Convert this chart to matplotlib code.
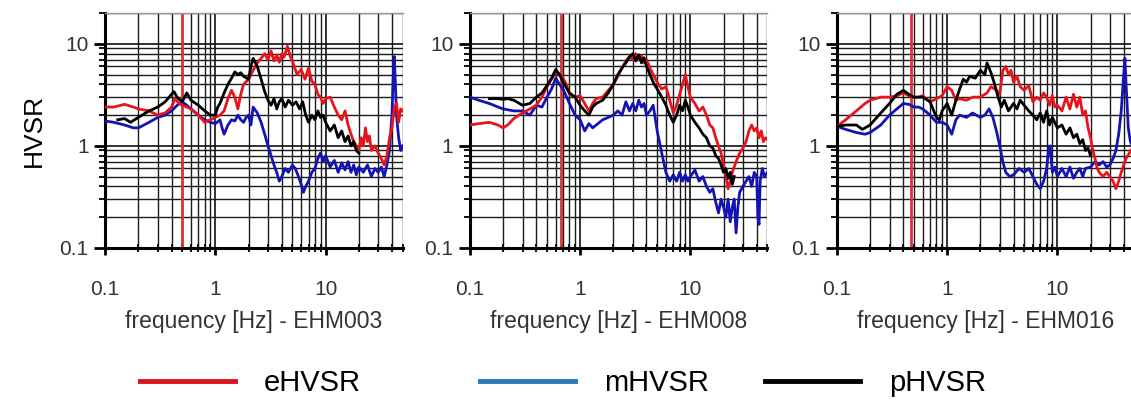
import matplotlib
matplotlib.use('Agg')
import matplotlib.pyplot as plt
from matplotlib.lines import Line2D
from matplotlib.ticker import FixedLocator, FixedFormatter, LogLocator, NullFormatter

plt.rcParams['font.family'] = ['Liberation Sans', 'DejaVu Sans']

stations = ['EHM003', 'EHM008', 'EHM016']
peak_freq = [0.5, 0.67, 0.47]
series_names = ['eHVSR', 'mHVSR', 'pHVSR']

# (frequency Hz, HVSR)
e1 = [(0.1, 2.4), (0.12, 2.4), (0.15, 2.55), (0.18, 2.4), (0.2, 2.3), (0.25, 2.2), (0.3, 2.0), (0.35, 2.1),
      (0.4, 2.4), (0.43, 2.9), (0.47, 2.6), (0.5, 2.5), (0.55, 2.4), (0.6, 2.3), (0.7, 2.0), (0.8, 1.7),
      (0.9, 1.8), (1.0, 1.9), (1.1, 2.0), (1.2, 2.2), (1.3, 2.9), (1.4, 3.5), (1.5, 3.0), (1.6, 2.3),
      (1.7, 3.2), (1.8, 4.0), (2.0, 4.5), (2.2, 5.5), (2.4, 6.5), (2.6, 7.2), (2.8, 8.0), (3.0, 7.0),
      (3.2, 8.5), (3.4, 6.8), (3.6, 7.8), (3.8, 6.6), (4.0, 8.0), (4.2, 7.4), (4.5, 9.5), (4.8, 7.4),
      (5.0, 6.8), (5.5, 5.0), (6.0, 5.6), (6.5, 4.5), (7.0, 5.8), (7.5, 4.3), (8.0, 4.0), (8.5, 3.2),
      (9.0, 3.0), (9.5, 2.6), (10, 2.9), (11, 3.0), (12, 2.4), (13, 2.0), (14, 1.8), (15, 2.2), (16, 1.6),
      (17, 1.3), (18, 1.1), (19, 1.0), (20, 0.9), (21, 1.2), (22, 1.0), (23, 1.5), (24, 1.1), (25, 1.25),
      (26, 0.9), (28, 1.0), (30, 0.85), (32, 0.75), (34, 0.65), (36, 0.8), (38, 1.2), (40, 1.5), (42, 2.4),
      (44, 2.6), (46, 1.7), (48, 2.3), (50, 2.2)]
m1 = [(0.1, 1.75), (0.12, 1.7), (0.15, 1.6), (0.18, 1.5), (0.2, 1.5), (0.25, 1.7), (0.3, 1.9), (0.35, 2.0),
      (0.4, 2.2), (0.45, 2.5), (0.5, 2.7), (0.55, 2.5), (0.6, 2.3), (0.7, 2.0), (0.8, 1.8), (0.9, 1.7),
      (1.0, 1.65), (1.1, 1.8), (1.15, 1.5), (1.2, 1.3), (1.3, 1.6), (1.4, 1.8), (1.5, 1.75), (1.6, 2.0),
      (1.7, 1.8), (1.8, 1.7), (1.9, 1.9), (2.0, 2.0), (2.1, 1.6), (2.2, 2.4), (2.4, 2.1), (2.6, 1.7),
      (2.8, 1.3), (3.0, 1.0), (3.2, 0.8), (3.4, 0.65), (3.6, 0.55), (3.8, 0.45), (4.0, 0.5), (4.3, 0.6),
      (4.6, 0.55), (5.0, 0.65), (5.3, 0.6), (5.6, 0.52), (6.0, 0.42), (6.3, 0.35), (6.6, 0.4), (7.0, 0.45),
      (7.5, 0.55), (8.0, 0.6), (8.5, 0.75), (9.0, 0.85), (9.5, 0.7), (10, 0.8), (11, 0.62), (12, 0.72),
      (13, 0.55), (14, 0.68), (15, 0.58), (16, 0.7), (17, 0.55), (18, 0.65), (19, 0.52), (20, 0.62),
      (22, 0.55), (24, 0.65), (26, 0.5), (28, 0.6), (30, 0.55), (32, 0.62), (34, 0.5), (36, 0.65),
      (38, 0.9), (40, 2.0), (41, 4.5), (42, 7.5), (43, 4.0), (44, 2.0), (46, 1.2), (48, 0.9), (50, 1.0)]
p1 = [(0.13, 1.8), (0.15, 1.85), (0.17, 1.7), (0.2, 1.9), (0.25, 2.2), (0.3, 2.4), (0.35, 2.7), (0.4, 3.2),
      (0.42, 3.4), (0.45, 3.0), (0.5, 2.7), (0.55, 3.3), (0.6, 2.8), (0.7, 2.5), (0.8, 2.2), (0.9, 2.0),
      (1.0, 2.0), (1.05, 2.4), (1.1, 2.6), (1.2, 3.3), (1.3, 4.0), (1.4, 4.6), (1.5, 5.3), (1.6, 5.0),
      (1.7, 5.2), (1.8, 4.8), (2.0, 4.5), (2.1, 6.0), (2.2, 7.2), (2.4, 6.0), (2.6, 4.5), (2.8, 3.4),
      (3.0, 2.8), (3.2, 2.5), (3.4, 2.9), (3.6, 2.3), (3.8, 2.7), (4.0, 2.9), (4.3, 2.4), (4.6, 2.8),
      (5.0, 2.5), (5.4, 2.7), (5.8, 2.3), (6.2, 2.7), (6.6, 2.0), (7.0, 1.7), (7.5, 2.0), (8.0, 1.8),
      (8.5, 2.2), (9.0, 1.9), (9.5, 2.0), (10, 1.7), (11, 1.4), (12, 1.6), (13, 1.2), (14, 1.4), (15, 1.1),
      (16, 1.25), (17, 1.0), (18, 1.1), (19, 0.9), (20, 0.85)]

e2 = [(0.1, 1.6), (0.12, 1.65), (0.15, 1.7), (0.18, 1.6), (0.2, 1.5), (0.22, 1.6), (0.25, 1.85), (0.3, 2.1),
      (0.35, 2.3), (0.4, 2.5), (0.45, 3.0), (0.5, 3.8), (0.55, 4.5), (0.6, 5.2), (0.65, 5.0), (0.7, 4.6),
      (0.75, 4.0), (0.8, 3.2), (0.9, 3.0), (1.0, 3.1), (1.1, 2.6), (1.2, 2.2), (1.3, 2.6), (1.4, 2.9),
      (1.6, 3.0), (1.8, 3.5), (2.0, 4.0), (2.2, 4.8), (2.4, 5.8), (2.6, 6.8), (2.8, 7.5), (3.0, 7.0),
      (3.2, 8.0), (3.4, 7.0), (3.6, 7.6), (3.8, 6.5), (4.0, 7.0), (4.3, 5.8), (4.6, 5.0), (5.0, 4.2),
      (5.5, 3.6), (6.0, 3.8), (6.5, 2.8), (7.0, 2.1), (7.5, 2.5), (8.0, 3.2), (8.5, 4.0), (9.0, 5.0),
      (9.5, 3.8), (10, 3.0), (11, 2.6), (12, 2.2), (13, 2.4), (14, 2.0), (15, 1.6), (16, 1.5), (17, 1.2),
      (18, 1.0), (19, 0.85), (20, 0.65), (21, 0.5), (22, 0.38), (23, 0.45), (24, 0.55), (26, 0.7),
      (28, 0.85), (30, 0.95), (32, 1.1), (34, 1.4), (36, 1.6), (38, 1.4), (40, 1.5), (42, 1.2), (44, 1.4),
      (46, 1.1), (48, 1.2), (50, 1.15)]
m2 = [(0.1, 3.0), (0.12, 2.8), (0.15, 2.6), (0.18, 2.4), (0.2, 2.3), (0.25, 2.2), (0.3, 2.2), (0.35, 2.0),
      (0.4, 2.5), (0.45, 2.4), (0.5, 3.0), (0.55, 3.6), (0.6, 4.6), (0.65, 4.0), (0.7, 3.6), (0.8, 2.6),
      (0.9, 2.0), (1.0, 1.8), (1.1, 1.4), (1.2, 1.65), (1.3, 1.5), (1.4, 1.6), (1.6, 1.8), (1.8, 1.9),
      (2.0, 2.0), (2.2, 2.2), (2.4, 2.0), (2.6, 2.7), (2.8, 2.2), (3.0, 2.6), (3.2, 2.2), (3.4, 2.8),
      (3.6, 2.4), (3.8, 2.6), (4.0, 2.0), (4.3, 2.2), (4.6, 2.5), (5.0, 1.4), (5.5, 0.85), (6.0, 0.55),
      (6.5, 0.45), (7.0, 0.52), (7.5, 0.45), (8.0, 0.55), (8.5, 0.45), (9.0, 0.52), (9.5, 0.45), (10, 0.5),
      (11, 0.58), (12, 0.45), (13, 0.5), (14, 0.4), (15, 0.35), (16, 0.38), (17, 0.28), (18, 0.22),
      (19, 0.3), (20, 0.25), (21, 0.2), (22, 0.3), (23, 0.18), (24, 0.25), (25, 0.3), (26, 0.14), (27, 0.25),
      (28, 0.35), (30, 0.4), (32, 0.45), (34, 0.5), (36, 0.4), (38, 0.55), (40, 0.5), (41, 0.2), (42, 0.17),
      (43, 0.45), (45, 0.6), (47, 0.5), (50, 0.55)]
p2 = [(0.15, 2.9), (0.18, 2.9), (0.2, 2.85), (0.22, 2.9), (0.25, 2.8), (0.3, 2.5), (0.35, 2.6), (0.4, 3.0),
      (0.45, 3.3), (0.5, 3.9), (0.55, 4.6), (0.6, 5.6), (0.65, 5.0), (0.7, 4.2), (0.8, 3.3), (0.9, 3.0),
      (1.0, 2.5), (1.1, 2.2), (1.2, 2.0), (1.3, 2.4), (1.4, 2.6), (1.6, 2.8), (1.8, 3.3), (2.0, 4.0),
      (2.2, 5.0), (2.4, 5.8), (2.6, 6.5), (2.8, 7.4), (3.0, 8.0), (3.2, 6.8), (3.4, 7.8), (3.6, 6.5),
      (3.8, 7.3), (4.0, 6.0), (4.3, 5.0), (4.6, 4.2), (5.0, 3.6), (5.5, 3.0), (6.0, 2.5), (6.5, 2.0),
      (7.0, 1.7), (7.5, 2.0), (8.0, 2.5), (8.5, 2.2), (9.0, 2.8), (9.5, 2.4), (10, 2.0), (11, 1.7),
      (12, 1.5), (13, 1.3), (14, 1.2), (15, 1.0), (16, 0.95), (17, 0.8), (18, 0.75), (19, 0.65),
      (20, 0.55), (21, 0.6), (22, 0.48), (23, 0.55), (24, 0.42), (25, 0.5)]

e3 = [(0.1, 1.55), (0.12, 1.8), (0.15, 2.2), (0.18, 2.6), (0.2, 2.8), (0.25, 3.0), (0.3, 3.0), (0.35, 3.1),
      (0.4, 3.3), (0.45, 3.1), (0.5, 3.0), (0.55, 3.0), (0.6, 3.1), (0.7, 2.7), (0.8, 2.9), (0.9, 3.1),
      (1.0, 3.8), (1.1, 3.5), (1.2, 2.8), (1.3, 2.9), (1.5, 2.8), (1.7, 3.0), (2.0, 3.0), (2.3, 3.3),
      (2.5, 3.8), (2.8, 3.5), (3.0, 3.2), (3.2, 5.5), (3.4, 6.0), (3.6, 5.0), (3.8, 5.5), (4.0, 4.2),
      (4.3, 4.8), (4.6, 3.8), (5.0, 3.5), (5.5, 3.9), (6.0, 2.7), (6.5, 3.0), (7.0, 2.8), (7.5, 3.3),
      (8.0, 3.0), (8.5, 2.5), (9.0, 3.1), (9.5, 2.4), (10, 2.5), (11, 2.2), (12, 3.0), (13, 2.3), (14, 3.2),
      (15, 2.4), (16, 3.0), (17, 2.0), (18, 2.2), (19, 1.5), (20, 1.2), (21, 0.9), (22, 0.75), (23, 0.6),
      (24, 0.55), (26, 0.5), (28, 0.55), (30, 0.5), (32, 0.45), (34, 0.38), (36, 0.45), (38, 0.55),
      (40, 0.65), (42, 0.75), (45, 0.85), (48, 0.95), (50, 1.05)]
m3 = [(0.1, 1.55), (0.12, 1.45), (0.15, 1.35), (0.18, 1.3), (0.2, 1.35), (0.25, 1.6), (0.3, 2.0), (0.35, 2.3),
      (0.4, 2.6), (0.45, 2.55), (0.5, 2.4), (0.55, 2.4), (0.6, 2.3), (0.7, 2.0), (0.8, 1.7), (0.9, 1.7),
      (1.0, 1.6), (1.1, 1.3), (1.2, 1.8), (1.3, 2.0), (1.5, 1.9), (1.7, 2.1), (2.0, 1.9), (2.2, 2.0),
      (2.4, 2.3), (2.6, 1.9), (2.8, 1.4), (3.0, 1.0), (3.2, 0.7), (3.4, 0.55), (3.7, 0.5), (4.0, 0.52),
      (4.5, 0.6), (5.0, 0.55), (5.5, 0.6), (6.0, 0.5), (6.5, 0.42), (7.0, 0.38), (7.5, 0.45), (8.0, 0.6),
      (8.3, 0.9), (8.6, 1.0), (9.0, 0.55), (9.5, 0.62), (10, 0.5), (11, 0.6), (12, 0.5), (13, 0.62),
      (14, 0.48), (15, 0.55), (16, 0.6), (17, 0.5), (18, 0.6), (20, 0.62), (22, 0.7), (24, 0.65), (26, 0.7),
      (28, 0.62), (30, 0.65), (32, 0.75), (34, 0.9), (36, 1.3), (38, 2.2), (40, 5.0), (41, 7.2), (42, 4.0),
      (43, 2.5), (44, 1.5), (46, 1.1), (50, 0.9)]
p3 = [(0.1, 1.55), (0.12, 1.6), (0.15, 1.6), (0.17, 1.45), (0.2, 1.6), (0.25, 2.1), (0.3, 2.6), (0.35, 3.2),
      (0.4, 3.5), (0.45, 3.2), (0.5, 3.0), (0.55, 3.0), (0.6, 3.0), (0.7, 2.7), (0.8, 1.9), (0.85, 1.8),
      (0.9, 2.2), (1.0, 2.6), (1.1, 2.0), (1.2, 2.8), (1.3, 3.6), (1.4, 4.5), (1.5, 4.2), (1.6, 4.8),
      (1.8, 4.6), (2.0, 5.5), (2.2, 5.0), (2.3, 6.5), (2.5, 5.2), (2.7, 4.0), (2.9, 3.0), (3.1, 2.4),
      (3.3, 2.8), (3.6, 2.2), (4.0, 2.6), (4.3, 2.3), (4.6, 2.8), (5.0, 2.5), (5.5, 2.2), (6.0, 2.0),
      (6.5, 1.8), (7.0, 2.1), (7.5, 1.7), (8.0, 2.2), (8.5, 1.6), (9.0, 1.9), (10, 1.5), (11, 1.6),
      (12, 1.3), (13, 1.5), (14, 1.2), (15, 1.3), (16, 1.05), (17, 1.15), (18, 0.9), (19, 0.95), (20, 0.8)]

ehvsr = [e1, e2, e3]
mhvsr = [m1, m2, m3]
phvsr = [p1, p2, p3]

fig = plt.figure(figsize=(11.31, 4.09), dpi=100)
lefts = [0.093, 0.4155, 0.740]

for i in range(3):
    ax = fig.add_axes([lefts[i], 0.394, 0.263, 0.574])
    ax.set_xscale('log')
    ax.set_yscale('log')
    ax.set_xlim(0.1, 50)
    ax.set_ylim(0.1, 20)

    ax.grid(True, which='major', color='#111111', lw=1.2)
    ax.grid(True, which='minor', color='#1a1a1a', lw=1.0)
    ax.set_axisbelow(True)

    ax.axvline(peak_freq[i], color='#d8343a', lw=2, zorder=2)

    for data, col in [(mhvsr[i], '#1414b4'), (ehvsr[i], '#e8141c'), (phvsr[i], 'black')]:
        f, v = zip(*data)
        ax.plot(f, v, color=col, lw=2, zorder=3)

    ax.xaxis.set_major_locator(FixedLocator([0.1, 1, 10]))
    ax.xaxis.set_major_formatter(FixedFormatter(['0.1', '1', '10']))
    ax.xaxis.set_minor_locator(LogLocator(base=10, subs=range(2, 10), numticks=20))
    ax.xaxis.set_minor_formatter(NullFormatter())
    ax.yaxis.set_major_locator(FixedLocator([0.1, 1, 10]))
    ax.yaxis.set_major_formatter(FixedFormatter(['0.1', '1', '10']))
    ax.yaxis.set_minor_locator(LogLocator(base=10, subs=range(2, 10), numticks=20))
    ax.yaxis.set_minor_formatter(NullFormatter())

    ax.tick_params(axis='x', which='major', direction='out', length=5, width=2, pad=18,
                   labelsize=15, colors='black', labelcolor='#333333')
    ax.tick_params(axis='x', which='minor', direction='inout', length=6, width=1.3)
    ax.tick_params(axis='y', which='major', direction='out', length=8, width=2, pad=4,
                   labelsize=15, labelcolor='#333333')
    ax.tick_params(axis='y', which='minor', direction='out', length=4, width=1.3)

    for s in ['left', 'bottom']:
        ax.spines[s].set_linewidth(2.2)
        ax.spines[s].set_color('black')
    ax.spines['top'].set_color('#999999')
    ax.spines['top'].set_linewidth(1)
    ax.spines['right'].set_visible(False)

    ax.set_xlabel('frequency [Hz] - ' + stations[i], fontsize=16.5, color='#333333', labelpad=8)
    if i == 0:
        ax.set_ylabel('HVSR', fontsize=19, labelpad=10)

legend_colors = ['#d8141c', '#2b78b8', 'black']
legend_x = [0.1238, 0.4244, 0.6764]
for name, col, lx in zip(series_names, legend_colors, legend_x):
    fig.legend([Line2D([], [], color=col, lw=3.5)], [name], loc='center left',
               bbox_to_anchor=(lx, 0.064), frameon=False, fontsize=21, borderpad=0,
               borderaxespad=0, handlelength=3.25, handletextpad=1.0)

fig.savefig('out.png', dpi=100)
